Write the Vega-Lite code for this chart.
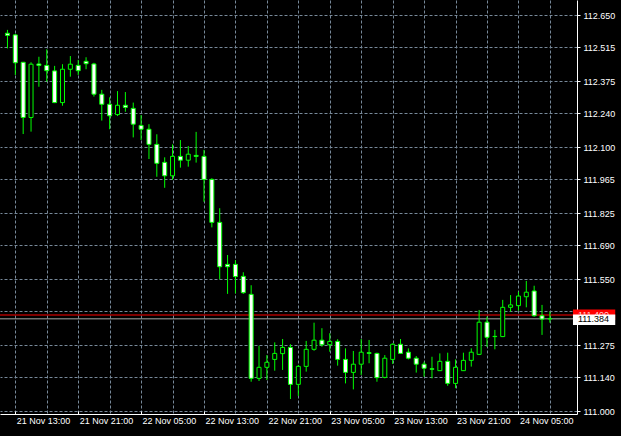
{
  "$schema": "https://vega.github.io/schema/vega-lite/v6.json",
  "width": 577,
  "height": 414,
  "autosize": {"type": "none"},
  "padding": {"left": 0, "top": 0, "right": 44, "bottom": 22},
  "background": "#000000",
  "view": {"stroke": null},
  "config": {"font": "Liberation Sans"},
  "datasets": {
    "candles": [
      {"time": "2017-11-21T12:00:00Z", "open": 112.574, "high": 112.588, "low": 112.511, "close": 112.565},
      {"time": "2017-11-21T13:00:00Z", "open": 112.567, "high": 112.571, "low": 112.400, "close": 112.451},
      {"time": "2017-11-21T14:00:00Z", "open": 112.453, "high": 112.454, "low": 112.154, "close": 112.223},
      {"time": "2017-11-21T15:00:00Z", "open": 112.223, "high": 112.453, "low": 112.164, "close": 112.445},
      {"time": "2017-11-21T16:00:00Z", "open": 112.446, "high": 112.476, "low": 112.351, "close": 112.440},
      {"time": "2017-11-21T17:00:00Z", "open": 112.440, "high": 112.507, "low": 112.372, "close": 112.418},
      {"time": "2017-11-21T18:00:00Z", "open": 112.417, "high": 112.438, "low": 112.283, "close": 112.285},
      {"time": "2017-11-21T19:00:00Z", "open": 112.285, "high": 112.445, "low": 112.272, "close": 112.424},
      {"time": "2017-11-21T20:00:00Z", "open": 112.424, "high": 112.479, "low": 112.393, "close": 112.445},
      {"time": "2017-11-21T21:00:00Z", "open": 112.440, "high": 112.463, "low": 112.400, "close": 112.418},
      {"time": "2017-11-21T22:00:00Z", "open": 112.457, "high": 112.474, "low": 112.424, "close": 112.447},
      {"time": "2017-11-21T23:00:00Z", "open": 112.446, "high": 112.451, "low": 112.310, "close": 112.320},
      {"time": "2017-11-22T00:00:00Z", "open": 112.320, "high": 112.338, "low": 112.210, "close": 112.278},
      {"time": "2017-11-22T01:00:00Z", "open": 112.278, "high": 112.307, "low": 112.174, "close": 112.230},
      {"time": "2017-11-22T02:00:00Z", "open": 112.235, "high": 112.333, "low": 112.229, "close": 112.274},
      {"time": "2017-11-22T03:00:00Z", "open": 112.274, "high": 112.329, "low": 112.247, "close": 112.265},
      {"time": "2017-11-22T04:00:00Z", "open": 112.261, "high": 112.285, "low": 112.140, "close": 112.195},
      {"time": "2017-11-22T05:00:00Z", "open": 112.190, "high": 112.233, "low": 112.129, "close": 112.174},
      {"time": "2017-11-22T06:00:00Z", "open": 112.174, "high": 112.195, "low": 112.050, "close": 112.111},
      {"time": "2017-11-22T07:00:00Z", "open": 112.111, "high": 112.153, "low": 111.976, "close": 112.032},
      {"time": "2017-11-22T08:00:00Z", "open": 112.036, "high": 112.057, "low": 111.930, "close": 111.980},
      {"time": "2017-11-22T09:00:00Z", "open": 111.980, "high": 112.111, "low": 111.963, "close": 112.061},
      {"time": "2017-11-22T10:00:00Z", "open": 112.061, "high": 112.129, "low": 112.014, "close": 112.045},
      {"time": "2017-11-22T11:00:00Z", "open": 112.045, "high": 112.104, "low": 112.018, "close": 112.070},
      {"time": "2017-11-22T12:00:00Z", "open": 112.065, "high": 112.163, "low": 112.035, "close": 112.061},
      {"time": "2017-11-22T13:00:00Z", "open": 112.061, "high": 112.088, "low": 111.872, "close": 111.965},
      {"time": "2017-11-22T14:00:00Z", "open": 111.965, "high": 111.970, "low": 111.765, "close": 111.786},
      {"time": "2017-11-22T15:00:00Z", "open": 111.786, "high": 111.845, "low": 111.549, "close": 111.601},
      {"time": "2017-11-22T16:00:00Z", "open": 111.611, "high": 111.650, "low": 111.488, "close": 111.601},
      {"time": "2017-11-22T17:00:00Z", "open": 111.611, "high": 111.629, "low": 111.490, "close": 111.560},
      {"time": "2017-11-22T18:00:00Z", "open": 111.561, "high": 111.578, "low": 111.488, "close": 111.493},
      {"time": "2017-11-22T19:00:00Z", "open": 111.486, "high": 111.524, "low": 111.122, "close": 111.136},
      {"time": "2017-11-22T20:00:00Z", "open": 111.136, "high": 111.272, "low": 111.125, "close": 111.182},
      {"time": "2017-11-22T21:00:00Z", "open": 111.182, "high": 111.233, "low": 111.129, "close": 111.203},
      {"time": "2017-11-22T22:00:00Z", "open": 111.215, "high": 111.286, "low": 111.168, "close": 111.240},
      {"time": "2017-11-22T23:00:00Z", "open": 111.239, "high": 111.300, "low": 111.171, "close": 111.265},
      {"time": "2017-11-23T00:00:00Z", "open": 111.265, "high": 111.278, "low": 111.050, "close": 111.111},
      {"time": "2017-11-23T01:00:00Z", "open": 111.111, "high": 111.192, "low": 111.063, "close": 111.186},
      {"time": "2017-11-23T02:00:00Z", "open": 111.186, "high": 111.292, "low": 111.164, "close": 111.257},
      {"time": "2017-11-23T03:00:00Z", "open": 111.257, "high": 111.368, "low": 111.251, "close": 111.295},
      {"time": "2017-11-23T04:00:00Z", "open": 111.295, "high": 111.345, "low": 111.268, "close": 111.276},
      {"time": "2017-11-23T05:00:00Z", "open": 111.276, "high": 111.324, "low": 111.247, "close": 111.290},
      {"time": "2017-11-23T06:00:00Z", "open": 111.290, "high": 111.299, "low": 111.189, "close": 111.215},
      {"time": "2017-11-23T07:00:00Z", "open": 111.215, "high": 111.261, "low": 111.115, "close": 111.161},
      {"time": "2017-11-23T08:00:00Z", "open": 111.161, "high": 111.250, "low": 111.090, "close": 111.195},
      {"time": "2017-11-23T09:00:00Z", "open": 111.195, "high": 111.300, "low": 111.150, "close": 111.245},
      {"time": "2017-11-23T10:00:00Z", "open": 111.243, "high": 111.296, "low": 111.199, "close": 111.240},
      {"time": "2017-11-23T11:00:00Z", "open": 111.240, "high": 111.243, "low": 111.122, "close": 111.139},
      {"time": "2017-11-23T12:00:00Z", "open": 111.140, "high": 111.233, "low": 111.136, "close": 111.220},
      {"time": "2017-11-23T13:00:00Z", "open": 111.215, "high": 111.282, "low": 111.196, "close": 111.278},
      {"time": "2017-11-23T14:00:00Z", "open": 111.278, "high": 111.300, "low": 111.238, "close": 111.240},
      {"time": "2017-11-23T15:00:00Z", "open": 111.245, "high": 111.261, "low": 111.215, "close": 111.220},
      {"time": "2017-11-23T16:00:00Z", "open": 111.220, "high": 111.229, "low": 111.160, "close": 111.195},
      {"time": "2017-11-23T17:00:00Z", "open": 111.195, "high": 111.205, "low": 111.143, "close": 111.178},
      {"time": "2017-11-23T18:00:00Z", "open": 111.176, "high": 111.226, "low": 111.136, "close": 111.174},
      {"time": "2017-11-23T19:00:00Z", "open": 111.168, "high": 111.240, "low": 111.167, "close": 111.207},
      {"time": "2017-11-23T20:00:00Z", "open": 111.207, "high": 111.243, "low": 111.105, "close": 111.115},
      {"time": "2017-11-23T21:00:00Z", "open": 111.115, "high": 111.215, "low": 111.095, "close": 111.182},
      {"time": "2017-11-23T22:00:00Z", "open": 111.168, "high": 111.243, "low": 111.167, "close": 111.211},
      {"time": "2017-11-23T23:00:00Z", "open": 111.211, "high": 111.261, "low": 111.185, "close": 111.245},
      {"time": "2017-11-24T00:00:00Z", "open": 111.236, "high": 111.421, "low": 111.233, "close": 111.370},
      {"time": "2017-11-24T01:00:00Z", "open": 111.370, "high": 111.393, "low": 111.267, "close": 111.307},
      {"time": "2017-11-24T02:00:00Z", "open": 111.311, "high": 111.338, "low": 111.257, "close": 111.310},
      {"time": "2017-11-24T03:00:00Z", "open": 111.310, "high": 111.463, "low": 111.308, "close": 111.432},
      {"time": "2017-11-24T04:00:00Z", "open": 111.432, "high": 111.483, "low": 111.414, "close": 111.442},
      {"time": "2017-11-24T05:00:00Z", "open": 111.439, "high": 111.497, "low": 111.418, "close": 111.479},
      {"time": "2017-11-24T06:00:00Z", "open": 111.476, "high": 111.542, "low": 111.432, "close": 111.495},
      {"time": "2017-11-24T07:00:00Z", "open": 111.500, "high": 111.522, "low": 111.393, "close": 111.397},
      {"time": "2017-11-24T08:00:00Z", "open": 111.397, "high": 111.442, "low": 111.317, "close": 111.383},
      {"time": "2017-11-24T09:00:00Z", "open": 111.385, "high": 111.414, "low": 111.368, "close": 111.384}
    ],
    "quotes": [
      {"name": "Ask", "price": 111.400},
      {"name": "Bid", "price": 111.384}
    ]
  },
  "layer": [
    {
      "data": {"name": "quotes"},
      "mark": {"type": "rule", "strokeWidth": 1},
      "encoding": {
        "y": {
          "field": "price",
          "type": "quantitative",
          "scale": {"domain": [110.9875, 112.7125], "nice": false, "zero": false},
          "axis": {
            "orient": "right",
            "title": null,
            "values": [111.000, 111.140, 111.275, 111.415, 111.550, 111.690, 111.825, 111.965, 112.100, 112.240, 112.375, 112.515, 112.650],
            "tickCount": 40,
            "labelExpr": "abs(datum.value - 111.415) < 0.0005 ? '' : format(datum.value, '.3f')",
            "grid": true,
            "gridColor": "#778899",
            "gridDash": [3, 2],
            "gridWidth": 1,
            "domain": true,
            "domainColor": "#ffffff",
            "domainWidth": 1,
            "ticks": true,
            "tickColor": "#ffffff",
            "tickSize": 3,
            "labelColor": "#ffffff",
            "labelFont": "Liberation Sans",
            "labelFontSize": 9,
            "labelPadding": 3,
            "labelAlign": "left",
            "labelBaseline": "middle",
            "labelOverlap": false,
            "labelFlush": false
          }
        },
        "color": {
          "condition": {"test": "datum.name == 'Ask'", "value": "#ff0000"},
          "value": "#a9a9a9"
        }
      }
    },
    {
      "data": {"name": "candles"},
      "mark": {"type": "rule", "color": "#00ff00", "strokeWidth": 1},
      "encoding": {
        "x": {
          "field": "time",
          "type": "temporal",
          "scale": {
            "type": "utc",
            "domain": [
              {"year": 2017, "month": 11, "date": 21, "hours": 11, "minutes": 41, "seconds": 15, "utc": true},
              {"year": 2017, "month": 11, "date": 24, "hours": 11, "minutes": 48, "seconds": 45, "utc": true}
            ]
          },
          "axis": {
            "title": null,
            "values": [
              {"year": 2017, "month": 11, "date": 21, "hours": 13, "utc": true},
              {"year": 2017, "month": 11, "date": 21, "hours": 17, "utc": true},
              {"year": 2017, "month": 11, "date": 21, "hours": 21, "utc": true},
              {"year": 2017, "month": 11, "date": 22, "hours": 1, "utc": true},
              {"year": 2017, "month": 11, "date": 22, "hours": 5, "utc": true},
              {"year": 2017, "month": 11, "date": 22, "hours": 9, "utc": true},
              {"year": 2017, "month": 11, "date": 22, "hours": 13, "utc": true},
              {"year": 2017, "month": 11, "date": 22, "hours": 17, "utc": true},
              {"year": 2017, "month": 11, "date": 22, "hours": 21, "utc": true},
              {"year": 2017, "month": 11, "date": 23, "hours": 1, "utc": true},
              {"year": 2017, "month": 11, "date": 23, "hours": 5, "utc": true},
              {"year": 2017, "month": 11, "date": 23, "hours": 9, "utc": true},
              {"year": 2017, "month": 11, "date": 23, "hours": 13, "utc": true},
              {"year": 2017, "month": 11, "date": 23, "hours": 17, "utc": true},
              {"year": 2017, "month": 11, "date": 23, "hours": 21, "utc": true},
              {"year": 2017, "month": 11, "date": 24, "hours": 1, "utc": true},
              {"year": 2017, "month": 11, "date": 24, "hours": 5, "utc": true},
              {"year": 2017, "month": 11, "date": 24, "hours": 9, "utc": true}
            ],
            "tickCount": 60,
            "labelExpr": "utchours(datum.value) % 8 == 5 ? utcFormat(datum.value, '%d %b %H:%M') : ''",
            "grid": true,
            "gridColor": "#778899",
            "gridDash": [3, 2],
            "gridWidth": 1,
            "domain": true,
            "domainColor": "#ffffff",
            "domainWidth": 1,
            "ticks": true,
            "tickColor": "#ffffff",
            "tickSize": -3,
            "tickOpacity": {"condition": {"test": "utchours(datum.value) % 8 == 5", "value": 1}, "value": 0},
            "labelColor": "#ffffff",
            "labelFont": "Liberation Sans",
            "labelFontSize": 9,
            "labelAlign": "left",
            "labelBaseline": "alphabetic",
            "labelPadding": 12,
            "labelOffset": 1,
            "labelOverlap": false,
            "labelFlush": false
          }
        },
        "y": {"field": "low", "type": "quantitative", "axis": {"title": null}},
        "y2": {"field": "high"}
      }
    },
    {
      "data": {"name": "candles"},
      "mark": {"type": "bar", "width": 4, "stroke": "#00ff00", "strokeWidth": 1},
      "encoding": {
        "x": {"field": "time", "type": "temporal", "axis": {"title": null}},
        "y": {"field": "open", "type": "quantitative", "axis": {"title": null}},
        "y2": {"field": "close"},
        "fill": {
          "condition": {"test": "datum.open > datum.close", "value": "#ffffff"},
          "value": "#000000"
        }
      }
    },
    {
      "data": {"name": "quotes"},
      "transform": [{"filter": "datum.name == 'Ask'"}],
      "mark": {"type": "rect", "color": "#ff0000"},
      "encoding": {
        "x": {"datum": {"year": 2017, "month": 11, "date": 24, "hours": 11, "minutes": 56, "seconds": 15, "utc": true}, "type": "temporal"},
        "x2": {"datum": {"year": 2017, "month": 11, "date": 24, "hours": 17, "minutes": 18, "seconds": 45, "utc": true}},
        "y": {"datum": 111.4229, "type": "quantitative"},
        "y2": {"datum": 111.3792}
      }
    },
    {
      "data": {"name": "quotes"},
      "transform": [{"filter": "datum.name == 'Ask'"}],
      "mark": {"type": "text", "align": "left", "baseline": "middle", "font": "Liberation Sans", "fontSize": 9, "color": "#ffd0d0"},
      "encoding": {
        "x": {"datum": {"year": 2017, "month": 11, "date": 24, "hours": 12, "minutes": 33, "seconds": 45, "utc": true}, "type": "temporal"},
        "y": {"field": "price", "type": "quantitative"},
        "text": {"field": "price", "type": "quantitative", "format": ".3f"}
      }
    },
    {
      "data": {"name": "quotes"},
      "transform": [{"filter": "datum.name == 'Bid'"}],
      "mark": {"type": "rect", "color": "#ffffff"},
      "encoding": {
        "x": {"datum": {"year": 2017, "month": 11, "date": 24, "hours": 11, "minutes": 56, "seconds": 15, "utc": true}, "type": "temporal"},
        "x2": {"datum": {"year": 2017, "month": 11, "date": 24, "hours": 17, "minutes": 18, "seconds": 45, "utc": true}},
        "y": {"datum": 111.4021, "type": "quantitative"},
        "y2": {"datum": 111.3583}
      }
    },
    {
      "data": {"name": "quotes"},
      "transform": [{"filter": "datum.name == 'Bid'"}],
      "mark": {"type": "text", "align": "left", "baseline": "middle", "font": "Liberation Sans", "fontSize": 9, "color": "#000000"},
      "encoding": {
        "x": {"datum": {"year": 2017, "month": 11, "date": 24, "hours": 12, "minutes": 33, "seconds": 45, "utc": true}, "type": "temporal"},
        "y": {"field": "price", "type": "quantitative"},
        "text": {"field": "price", "type": "quantitative", "format": ".3f"}
      }
    }
  ]
}
